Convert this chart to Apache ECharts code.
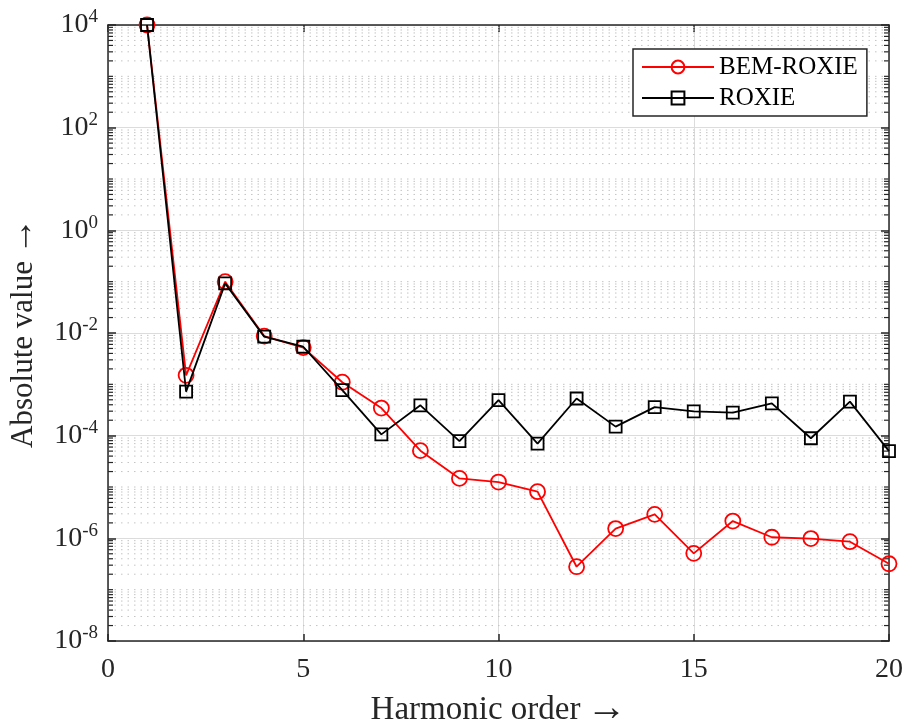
<!DOCTYPE html>
<html>
<head>
<meta charset="utf-8">
<script src="https://cdn.jsdelivr.net/npm/echarts@6/dist/echarts.min.js"></script>
<style>
  html, body { margin: 0; padding: 0; background: #fff; }
  #chart { width: 907px; height: 727px; }
</style>
</head>
<body>
<div id="chart"></div>
<script>
// Harmonic orders on the x axis
const orders = [1, 2, 3, 4, 5, 6, 7, 8, 9, 10, 11, 12, 13, 14, 15, 16, 17, 18, 19, 20];

// Absolute harmonic values, BEM-ROXIE coupled solution
const bemRoxie = [1.0e4, 1.5e-3, 1.0e-1, 8.7e-3, 5.2e-3, 1.1e-3, 3.45e-4, 5.1e-5, 1.47e-5, 1.25e-5,
                  8.1e-6, 2.8e-7, 1.55e-6, 2.93e-6, 5.1e-7, 2.17e-6, 1.05e-6, 9.9e-7, 8.6e-7, 3.2e-7];

// Absolute harmonic values, ROXIE alone
const roxie = [1.0e4, 7.2e-4, 9.25e-2, 8.5e-3, 5.4e-3, 7.7e-4, 1.06e-4, 3.9e-4, 7.85e-5, 4.93e-4,
               6.98e-5, 5.3e-4, 1.5e-4, 3.6e-4, 2.97e-4, 2.8e-4, 4.25e-4, 8.9e-5, 4.6e-4, 5.0e-5];

// Axis ranges
const xMin = 0, xMax = 20, xStep = 5;
const yMin = 1e-8;
const yMax = 1e4;

const serif = "'Liberation Serif', 'Times New Roman', serif";
const ink = '#262626';

// Log-scale minor positions: 2..9 x 10^k in every decade, plus the odd decades
const minorLevels = [];
for (let e = -8; e < 4; e++) {
  for (let m = 1; m <= 9; m++) {
    if (m === 1 && e % 2 === 0) continue;
    minorLevels.push([0, m * Math.pow(10, e)]);
  }
}

const chart = echarts.init(document.getElementById('chart'), null, { renderer: 'canvas' });

const labelRich = {
  b: { fontFamily: serif, fontSize: 28, color: ink },
  s: { fontFamily: serif, fontSize: 19, color: ink, verticalAlign: 'top', padding: [0, 0, 15, 0] }
};

function powLabel(v) {
  const e = Math.round(Math.log10(v));
  return '{b|10}{s|' + e + '}';
}

const xNameRich = {
  t: { fontFamily: serif, fontSize: 33, color: ink, lineHeight: 36 },
  a: { fontFamily: serif, fontSize: 40, color: ink, lineHeight: 36, padding: [0, 0, 2, 6] }
};
const yNameRich = {
  t: { fontFamily: serif, fontSize: 31, color: ink, lineHeight: 34 },
  a: { fontFamily: serif, fontSize: 37, color: ink, lineHeight: 34, padding: [0, 0, 2, 6] }
};

const option = {
  animation: false,
  backgroundColor: '#fff',
  grid: { left: 108, right: 18, top: 25, bottom: 86, containLabel: false, outerBoundsMode: 'none' },
  legend: {
    data: ['BEM-ROXIE', 'ROXIE'],
    orient: 'vertical',
    left: 633,
    top: 49,
    padding: [5, 9, 5, 8],
    itemGap: 5,
    itemWidth: 72,
    itemHeight: 16,
    borderColor: ink,
    borderWidth: 1.5,
    backgroundColor: '#fff',
    textStyle: { fontFamily: serif, fontSize: 25, color: '#000', lineHeight: 26 }
  },
  xAxis: [
    {
      type: 'value', min: xMin, max: xMax, interval: xStep, position: 'bottom',
      name: '{t|Harmonic order}{a|\u2192}', nameLocation: 'middle', nameGap: 51,
      nameTextStyle: { rich: xNameRich },
      axisLine: { show: true, onZero: false, lineStyle: { color: ink, width: 1.5 } },
      axisTick: { show: true, inside: true, length: 7, lineStyle: { color: ink, width: 1.5 } },
      axisLabel: { fontFamily: serif, fontSize: 28, color: ink, margin: 15 },
      splitLine: { show: true, lineStyle: { color: '#dcdcdc', width: 1 } }
    },
    {
      type: 'value', min: xMin, max: xMax, interval: xStep, position: 'top',
      axisLine: { show: true, onZero: false, lineStyle: { color: ink, width: 1.5 } },
      axisTick: { show: true, inside: true, length: 7, lineStyle: { color: ink, width: 1.5 } },
      axisLabel: { show: false },
      splitLine: { show: false }
    }
  ],
  yAxis: [
    {
      type: 'log', logBase: 10, min: yMin, max: yMax, interval: 2, position: 'left',
      name: '{t|Absolute value}{a|\u2192}', nameLocation: 'middle', nameGap: 64, nameRotate: 90,
      nameTextStyle: { rich: yNameRich },
      axisLine: { show: true, onZero: false, lineStyle: { color: ink, width: 1.5 } },
      axisTick: { show: true, inside: true, length: 8, lineStyle: { color: ink, width: 1.5 } },
      axisLabel: { formatter: powLabel, rich: labelRich, margin: 10 },
      splitLine: { show: true, lineStyle: { color: '#dcdcdc', width: 1 } }
    },
    {
      type: 'log', logBase: 10, min: yMin, max: yMax, interval: 2, position: 'right',
      axisLine: { show: true, onZero: false, lineStyle: { color: ink, width: 1.5 } },
      axisTick: { show: true, inside: true, length: 8, lineStyle: { color: ink, width: 1.5 } },
      axisLabel: { show: false },
      splitLine: { show: false }
    }
  ],
  series: [
    {
      // dotted minor grid with short inward minor ticks on both sides
      type: 'custom',
      name: 'minor',
      silent: true,
      z: 1,
      xAxisIndex: 0,
      yAxisIndex: 0,
      data: minorLevels,
      renderItem: function (params, api) {
        const v = api.value(1);
        const a = api.coord([xMin, v]);
        const b = api.coord([xMax, v]);
        return {
          type: 'group',
          children: [
            {
              type: 'line',
              shape: { x1: a[0], y1: a[1], x2: b[0], y2: b[1] },
              style: { stroke: '#c4c4c4', lineWidth: 1, lineDash: [1.5, 5] }
            },
            {
              type: 'line',
              shape: { x1: a[0], y1: a[1], x2: a[0] + 5, y2: a[1] },
              style: { stroke: ink, lineWidth: 1.2 }
            },
            {
              type: 'line',
              shape: { x1: b[0] - 5, y1: b[1], x2: b[0], y2: b[1] },
              style: { stroke: ink, lineWidth: 1.2 }
            }
          ]
        };
      }
    },
    {
      name: 'BEM-ROXIE',
      type: 'line',
      z: 3,
      data: orders.map((o, i) => [o, bemRoxie[i]]),
      symbol: 'circle',
      symbolSize: 15,
      showAllSymbol: true,
      lineStyle: { color: '#ff0000', width: 1.8 },
      itemStyle: { color: 'rgba(0,0,0,0)', borderColor: '#ff0000', borderWidth: 1.8 }
    },
    {
      name: 'ROXIE',
      type: 'line',
      z: 4,
      data: orders.map((o, i) => [o, roxie[i]]),
      symbol: 'rect',
      symbolSize: 12,
      showAllSymbol: true,
      lineStyle: { color: '#000000', width: 1.8 },
      itemStyle: { color: 'rgba(0,0,0,0)', borderColor: '#000000', borderWidth: 1.8 }
    }
  ]
};

chart.setOption(option);
</script>
</body>
</html>
